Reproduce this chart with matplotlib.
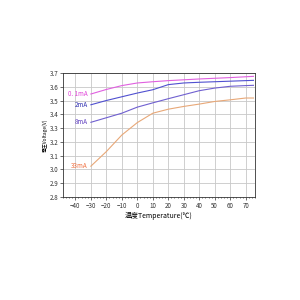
import matplotlib
matplotlib.use("Agg")
import matplotlib.pyplot as plt
from matplotlib.ticker import MultipleLocator

plt.rcParams['font.family'] = ['Noto Sans CJK JP', 'DejaVu Sans']

temps = [-30, -20, -10, 0, 10, 20, 30, 40, 50, 60, 70, 75]
v_01mA = [3.547, 3.58, 3.608, 3.627, 3.636, 3.644, 3.650, 3.656, 3.661, 3.666, 3.672, 3.675]
v_2mA = [3.469, 3.50, 3.527, 3.554, 3.578, 3.615, 3.627, 3.632, 3.636, 3.640, 3.644, 3.646]
v_8mA = [3.342, 3.375, 3.408, 3.452, 3.483, 3.513, 3.542, 3.571, 3.590, 3.603, 3.608, 3.610]
v_33mA = [3.024, 3.13, 3.25, 3.34, 3.408, 3.437, 3.457, 3.474, 3.493, 3.505, 3.518, 3.518]

series = [
    ("0.1mA", v_01mA, "#e060e0", "#e040d8"),
    ("2mA", v_2mA, "#5050d0", "#3030b0"),
    ("8mA", v_8mA, "#7060d0", "#6040c0"),
    ("33mA", v_33mA, "#e8a878", "#f07040"),
]

fig = plt.figure(figsize=(3, 3), dpi=100)
ax = fig.add_axes([0.21, 0.343, 0.64, 0.414])

for name, vals, lc, tc in series:
    ax.plot(temps, vals, color=lc, lw=0.8)
    ax.text(-32, vals[0], name.replace("0.1", "0. 1"), color=tc, fontsize=4.5,
            ha='right', va='center')

ax.set_xlim(-48, 76)
ax.set_ylim(2.8, 3.7)
ax.xaxis.set_major_locator(MultipleLocator(10))
ax.xaxis.set_minor_locator(MultipleLocator(2))
ax.yaxis.set_major_locator(MultipleLocator(0.1))
ax.grid(True, which='major', color='#c8c8c8', lw=0.6)
ax.tick_params(labelsize=4.5, length=2, width=0.5, colors='#333333', pad=1.5)
ax.tick_params(which='minor', length=1, width=0.4)
for s in ax.spines.values():
    s.set_linewidth(0.6)
    s.set_color('#333333')
ax.set_xlabel("温度Temperature(℃)", fontsize=5, labelpad=1.5)
ax.set_ylabel("電圧Voltage(V)", fontsize=3.5, labelpad=1)

fig.savefig("out.png", dpi=100)
